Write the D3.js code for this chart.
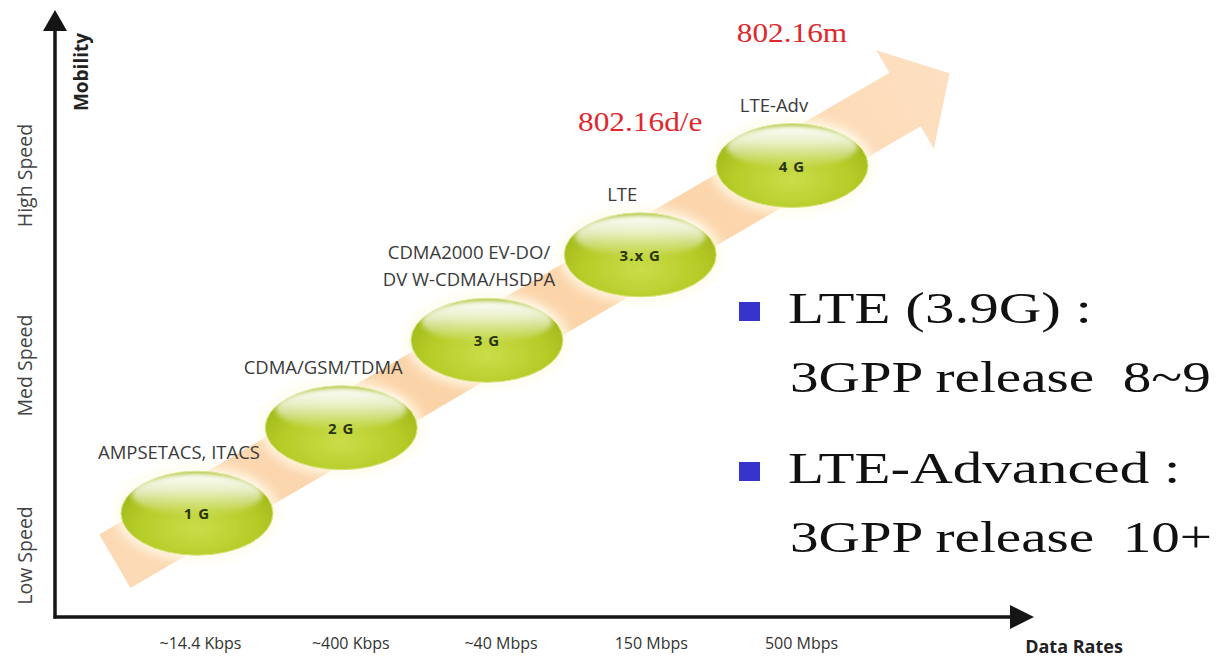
<!DOCTYPE html>
<html>
<head>
<meta charset="utf-8">
<script src="https://cdn.jsdelivr.net/npm/d3@7"></script>
<style>
  html, body { margin: 0; padding: 0; background: #fff; }
  svg { display: block; }
  text { white-space: pre; }
</style>
</head>
<body>
<svg id="chart" width="1223" height="659"></svg>
<script>
// Data rate steps along the horizontal axis
const rateLabels = ["~14.4 Kbps", "~400 Kbps", "~40 Mbps", "150 Mbps", "500 Mbps"];
// Mobility levels along the vertical axis
const mobilityLabels = ["Low Speed", "Med Speed", "High Speed"];
// Cellular generations
const generations = ["1 G", "2 G", "3 G", "3.x G", "4 G"];
const technologies = [
  ["AMPSETACS, ITACS"],
  ["CDMA/GSM/TDMA"],
  ["CDMA2000 EV-DO/", "DV W-CDMA/HSDPA"],
  ["LTE"],
  ["LTE-Adv"]
];
// Where each generation sits on the rate / mobility scales
const ratePosition = [-0.02, 0.94, 1.91, 2.93, 3.94];
const mobilityPosition = [0.22, 0.67, 1.13, 1.58, 2.05];
// IEEE 802.16 counterparts
const ieeeLabels = [null, null, null, "802.16d/e", "802.16m"];
// Notes on the right
const noteTitles = ["LTE (3.9G) :", "LTE-Advanced :"];
const noteReleases = ["3GPP release  8~9", "3GPP release  10+"];

const svg = d3.select("#chart");
const defs = svg.append("defs");

const x = d3.scaleLinear().domain([0, 4]).range([200, 801]);
const y = d3.scaleLinear().domain([0, 2]).range([555, 175]);

const axisX0 = 55, axisY0 = 617;
const sans = "'Open Sans', 'Noto Sans', sans-serif";
const serif = "'Liberation Serif', 'Times New Roman', serif";

// ---- gradients & filters ----
const pillGrad = defs.append("radialGradient").attr("id", "pill")
  .attr("cx", "50%").attr("cy", "68%").attr("r", "60%");
pillGrad.append("stop").attr("offset", "0%").attr("stop-color", "#cadd4a");
pillGrad.append("stop").attr("offset", "65%").attr("stop-color", "#b6cc27");
pillGrad.append("stop").attr("offset", "100%").attr("stop-color", "#a2b91b");

const shine = defs.append("linearGradient").attr("id", "shine")
  .attr("x1", 0).attr("y1", 0).attr("x2", 0).attr("y2", 1);
shine.append("stop").attr("offset", "0%").attr("stop-color", "#ffffff").attr("stop-opacity", 1);
shine.append("stop").attr("offset", "40%").attr("stop-color", "#ffffff").attr("stop-opacity", 0.75);
shine.append("stop").attr("offset", "100%").attr("stop-color", "#ffffff").attr("stop-opacity", 0);

const glow = defs.append("filter").attr("id", "glow")
  .attr("x", "-30%").attr("y", "-30%").attr("width", "160%").attr("height", "160%");
glow.append("feGaussianBlur").attr("stdDeviation", 5);

const shineBlur = defs.append("filter").attr("id", "shineBlur")
  .attr("x", "-20%").attr("y", "-20%").attr("width", "140%").attr("height", "140%");
shineBlur.append("feGaussianBlur").attr("stdDeviation", 2.5);

const soft = defs.append("filter").attr("id", "soft");
soft.append("feGaussianBlur").attr("stdDeviation", 0.7);

// ---- trend arrow through the generations ----
const pts = generations.map((g, i) => [x(ratePosition[i]), y(mobilityPosition[i])]);
const p0 = pts[0], p1 = pts[pts.length - 1];
const d = [p1[0] - p0[0], p1[1] - p0[1]];
const len = Math.hypot(d[0], d[1]);
const u = [d[0] / len, d[1] / len];
const n = [-u[1], u[0]];
const along = (p, t) => [p[0] + d[0] * t, p[1] + d[1] * t];
const off = (p, k) => [p[0] + n[0] * k, p[1] + n[1] * k];
const tail = along(p0, -0.138);
const neck = along(p1, 0.19);
const tip = along(p1, 0.265);
const bodyHalf = 31, headHalf = 57;
const arrowPts = [
  off(tail, bodyHalf), off(neck, bodyHalf), off(neck, headHalf), tip,
  off(neck, -headHalf), off(neck, -bodyHalf), off(tail, -bodyHalf)
];

const arrowGrad = defs.append("linearGradient").attr("id", "arrowFill")
  .attr("gradientUnits", "userSpaceOnUse")
  .attr("x1", tail[0]).attr("y1", tail[1]).attr("x2", tip[0]).attr("y2", tip[1]);
arrowGrad.append("stop").attr("offset", "0%").attr("stop-color", "#fcdab6");
arrowGrad.append("stop").attr("offset", "35%").attr("stop-color", "#fbd3a8");
arrowGrad.append("stop").attr("offset", "75%").attr("stop-color", "#fcd6ad");
arrowGrad.append("stop").attr("offset", "100%").attr("stop-color", "#fde0c2");

svg.append("polygon")
  .attr("points", arrowPts.map(p => p.join(",")).join(" "))
  .attr("fill", "url(#arrowFill)")
  .attr("filter", "url(#soft)");

// ---- axes ----
const axisColor = "#151515";
svg.append("line")
  .attr("x1", axisX0).attr("y1", axisY0 + 1.5).attr("x2", axisX0).attr("y2", 28)
  .attr("stroke", axisColor).attr("stroke-width", 3.5);
svg.append("path")
  .attr("d", d3.line()([[axisX0, 10], [axisX0 - 12, 31], [axisX0 + 12, 31]]) + "Z")
  .attr("fill", axisColor);
svg.append("line")
  .attr("x1", axisX0 - 1.5).attr("y1", axisY0).attr("x2", 1012).attr("y2", axisY0)
  .attr("stroke", axisColor).attr("stroke-width", 3.5);
svg.append("path")
  .attr("d", d3.line()([[1034, axisY0], [1010, axisY0 - 12], [1010, axisY0 + 12]]) + "Z")
  .attr("fill", axisColor);

// Rate tick labels
const xAxis = svg.append("g")
  .attr("transform", `translate(0,${axisY0})`)
  .call(d3.axisBottom(x).tickValues(d3.range(rateLabels.length))
    .tickFormat(i => rateLabels[i]).tickSize(0).tickPadding(21));
xAxis.select(".domain").remove();
xAxis.selectAll("text")
  .attr("font-family", sans).attr("font-size", 16).attr("fill", "#333");

// Mobility tick labels (rotated)
const yAxis = svg.append("g")
  .call(d3.axisLeft(y).tickValues(d3.range(mobilityLabels.length))
    .tickFormat(i => mobilityLabels[i]).tickSize(0));
yAxis.select(".domain").remove();
yAxis.selectAll("text")
  .attr("font-family", sans).attr("font-size", 19.5).attr("fill", "#444")
  .attr("text-anchor", "middle")
  .attr("x", 0).attr("dy", 0)
  .attr("transform", "translate(32,0) rotate(-90)");

svg.append("text")
  .attr("transform", "translate(88,72) rotate(-90)")
  .attr("text-anchor", "middle")
  .attr("font-family", sans).attr("font-weight", 700).attr("font-size", 19)
  .attr("fill", "#222").text("Mobility");

svg.append("text")
  .attr("x", 1074).attr("y", 653).attr("text-anchor", "middle")
  .attr("font-family", sans).attr("font-weight", 700).attr("font-size", 18)
  .attr("fill", "#222").text("Data Rates");

// ---- generation pills ----
const rx = 76, ry = 42;
const gen = svg.append("g").selectAll("g")
  .data(generations).join("g")
  .attr("transform", (g, i) => `translate(${pts[i][0]},${pts[i][1]})`);

gen.append("ellipse")
  .attr("rx", rx + 7).attr("ry", ry + 7)
  .attr("fill", "#fffbe8").attr("opacity", 0.75)
  .attr("filter", "url(#glow)");
gen.append("ellipse")
  .attr("rx", rx).attr("ry", ry)
  .attr("fill", "url(#pill)")
  .attr("stroke", "#d6e47c").attr("stroke-width", 1);
gen.append("ellipse")
  .attr("cy", -ry * 0.45).attr("rx", rx * 0.86).attr("ry", ry * 0.5)
  .attr("fill", "url(#shine)")
  .attr("filter", "url(#shineBlur)");
gen.append("text")
  .attr("y", 6).attr("text-anchor", "middle")
  .attr("font-family", sans).attr("font-weight", 700).attr("font-size", 15)
  .attr("fill", "#2a3412").attr("letter-spacing", 1)
  .text(g => g);

// Technology captions above each pill
gen.each(function(g, i) {
  const lines = technologies[i];
  const t = d3.select(this).append("text")
    .attr("text-anchor", "middle")
    .attr("font-family", sans).attr("font-size", 18.5).attr("fill", "#3a3a3a");
  lines.forEach((line, k) => {
    t.append("tspan")
      .attr("x", -18)
      .attr("y", -ry - 12 - (lines.length - 1 - k) * 27)
      .text(line);
  });
});

// IEEE counterparts in red
gen.filter((g, i) => ieeeLabels[i] !== null)
  .append("text")
  .attr("transform", "translate(0,-124) scale(1.16,1)")
  .attr("text-anchor", "middle")
  .attr("font-family", serif).attr("font-size", 27).attr("fill", "#e0282c")
  .text((g) => ieeeLabels[generations.indexOf(g)]);

// ---- notes on the right ----
const notes = svg.append("g").selectAll("g")
  .data(noteTitles).join("g")
  .attr("transform", (t, i) => `translate(788,${323 + i * 160})`);
notes.append("rect")
  .attr("x", -49).attr("y", -21).attr("width", 21).attr("height", 19)
  .attr("fill", "#3434cc");
notes.append("text")
  .attr("transform", "scale(1.31,1)")
  .attr("font-family", serif).attr("font-size", 45).attr("fill", "#111")
  .text(t => t);
notes.append("text")
  .attr("transform", "translate(2,69) scale(1.27,1)")
  .attr("font-family", serif).attr("font-size", 45).attr("fill", "#111")
  .text((t, i) => noteReleases[i]);
</script>
</body>
</html>
